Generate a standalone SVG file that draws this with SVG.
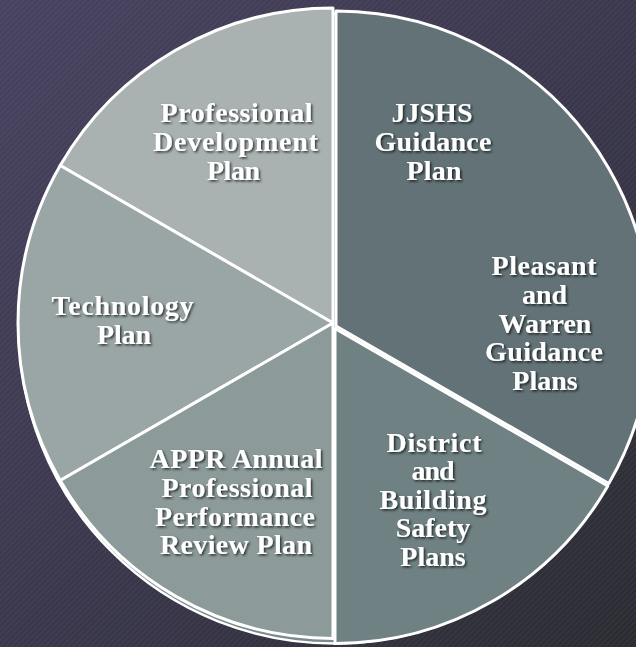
<svg xmlns="http://www.w3.org/2000/svg" width="636" height="647" viewBox="0 0 636 647">
  <defs>
    <linearGradient id="bg" x1="0" y1="0" x2="636" y2="647" gradientUnits="userSpaceOnUse">
      <stop offset="0" stop-color="#47425f"/>
      <stop offset="0.5" stop-color="#3a374d"/>
      <stop offset="1" stop-color="#2a2b31"/>
    </linearGradient>
    <pattern id="stripes" width="4" height="4" patternUnits="userSpaceOnUse" patternTransform="rotate(45)">
      <rect x="0" y="0" width="1.5" height="4" fill="#ffffff" fill-opacity="0.045"/>
    </pattern>
    <filter id="shadow" x="-10%" y="-10%" width="130%" height="130%">
      <feDropShadow dx="1.5" dy="1.5" stdDeviation="1.2" flood-color="#000000" flood-opacity="0.7"/>
    </filter>
    <style>
      .slice { stroke: #ffffff; stroke-width: 3; stroke-linejoin: round; }
      .lbl { font-family: "Liberation Serif", "Times New Roman", serif; font-weight: bold; font-size: 28px; fill: #ffffff; text-anchor: middle; }
      .labels { filter: url(#shadow); }
    </style>
  </defs>

  <rect width="636" height="647" fill="url(#bg)"/>
  <rect width="636" height="647" fill="url(#stripes)"/>

  <g id="pie-base">
    <circle cx="334" cy="328.5" r="315" fill="#7a8b8c" stroke="#ffffff" stroke-width="2.5"/>
  </g>

  <g id="professional-development">
    <path class="slice" fill="#a9b2b1" d="M333,323 L333,8 A315,315 0 0,0 60.2,165.5 Z"/>
    <g class="labels">
      <text class="lbl" x="236.5" y="122" textLength="152" lengthAdjust="spacing">Professional</text>
      <text class="lbl" x="235.5" y="151" textLength="165" lengthAdjust="spacing">Development</text>
      <text class="lbl" x="233.5" y="180" textLength="53" lengthAdjust="spacing">Plan</text>
    </g>
  </g>

  <g id="technology">
    <path class="slice" fill="#9aa5a5" d="M333,323 L60.2,165.5 A315,315 0 0,0 60.2,480.5 Z"/>
    <g class="labels">
      <text class="lbl" x="122.5" y="315" textLength="142" lengthAdjust="spacing">Technology</text>
      <text class="lbl" x="124" y="343.5" textLength="54" lengthAdjust="spacing">Plan</text>
    </g>
  </g>

  <g id="appr">
    <path class="slice" fill="#8c9a9a" d="M333,323 L60.2,480.5 A315,315 0 0,0 333,638.5 Z"/>
    <g class="labels">
      <text class="lbl" x="236" y="468" textLength="173" lengthAdjust="spacing">APPR Annual</text>
      <text class="lbl" x="237" y="497" textLength="151" lengthAdjust="spacing">Professional</text>
      <text class="lbl" x="235" y="525.5" textLength="160" lengthAdjust="spacing">Performance</text>
      <text class="lbl" x="236" y="554" textLength="152" lengthAdjust="spacing">Review Plan</text>
    </g>
  </g>

  <g id="guidance">
    <path class="slice" fill="#627276" d="M336,326 L336,11 A315,315 0 0,1 608.8,483.5 Z"/>
    <g class="labels">
      <text class="lbl" x="432" y="122">JJSHS</text>
      <text class="lbl" x="433" y="151" textLength="117" lengthAdjust="spacing">Guidance</text>
      <text class="lbl" x="434" y="180" textLength="55" lengthAdjust="spacing">Plan</text>
      <text class="lbl" x="544" y="275" textLength="105" lengthAdjust="spacing">Pleasant</text>
      <text class="lbl" x="544.5" y="303.5" textLength="45" lengthAdjust="spacing">and</text>
      <text class="lbl" x="545" y="332.5">Warren</text>
      <text class="lbl" x="544" y="361" textLength="118" lengthAdjust="spacing">Guidance</text>
      <text class="lbl" x="545" y="390">Plans</text>
    </g>
  </g>

  <g id="safety">
    <path class="slice" fill="#6f8183" d="M335,328.5 L607.8,486 A315,315 0 0,1 335,643.5 Z"/>
    <g class="labels">
      <text class="lbl" x="434" y="451.5" textLength="95" lengthAdjust="spacing">District</text>
      <text class="lbl" x="433" y="480" textLength="43" lengthAdjust="spacing">and</text>
      <text class="lbl" x="433" y="508.5" textLength="107" lengthAdjust="spacing">Building</text>
      <text class="lbl" x="433" y="537">Safety</text>
      <text class="lbl" x="433" y="565.5">Plans</text>
    </g>
  </g>

  <g id="connectors"/>
</svg>
